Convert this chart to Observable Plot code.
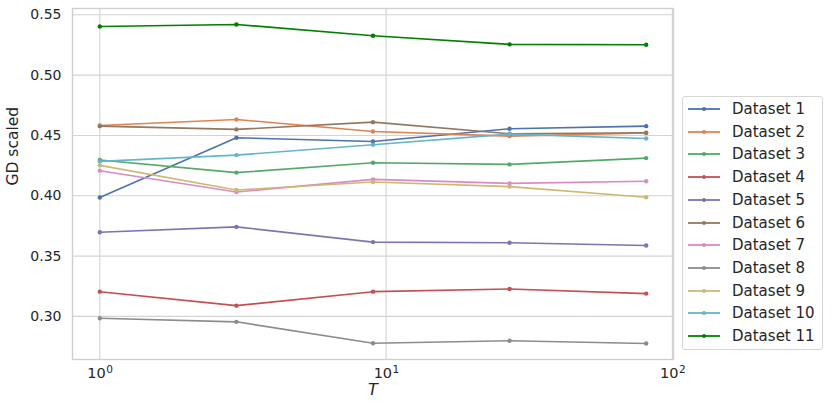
<!DOCTYPE html>
<html>
<head>
<meta charset="utf-8">
<script src="https://cdn.jsdelivr.net/npm/d3@7"></script>
<script src="https://cdn.jsdelivr.net/npm/@observablehq/plot@0.6"></script>
<style>
  html, body { margin: 0; padding: 0; background: #fff; }
  body { font-family: "DejaVu Sans", sans-serif; }
  #wrap { position: relative; width: 831px; height: 412px; }
  #legend { position: absolute; left: 682px; top: 96px; width: 141px; height: 254px;
    border: 1px solid #d6d6d6; border-radius: 3px; background: #fff; box-sizing: border-box; }
  .row { position: absolute; left: 0; height: 20px; display: flex; align-items: center;
    font-size: 15px; color: #262626; white-space: nowrap; }
  .row svg { margin-left: 5px; margin-right: 12px; }
</style>
</head>
<body>
<div id="wrap"></div>
<script>
const T = [1, 3, 9, 27, 81];
const names = ["Dataset 1","Dataset 2","Dataset 3","Dataset 4","Dataset 5","Dataset 6",
               "Dataset 7","Dataset 8","Dataset 9","Dataset 10","Dataset 11"];
const colors = ["#4C72B0","#DD8452","#55A868","#C44E52","#8172B3","#937860",
                "#DA8BC3","#8C8C8C","#CCB974","#64B5CD","#008000"];
const s1  = [0.3985, 0.4481, 0.4450, 0.4555, 0.4577];
const s2  = [0.4583, 0.4632, 0.4533, 0.4494, 0.4520];
const s3  = [0.4296, 0.4192, 0.4274, 0.4260, 0.4312];
const s4  = [0.3205, 0.3089, 0.3205, 0.3227, 0.3189];
const s5  = [0.3698, 0.3742, 0.3616, 0.3610, 0.3588];
const s6  = [0.4577, 0.4550, 0.4610, 0.4514, 0.4522];
const s7  = [0.4208, 0.4031, 0.4136, 0.4103, 0.4120];
const s8  = [0.2985, 0.2955, 0.2778, 0.2798, 0.2775];
const s9  = [0.4252, 0.4048, 0.4114, 0.4076, 0.3988];
const s10 = [0.4285, 0.4337, 0.4423, 0.4511, 0.4475];
const s11 = [0.5403, 0.5420, 0.5326, 0.5255, 0.5252];
const series = [s1,s2,s3,s4,s5,s6,s7,s8,s9,s10,s11];
const yTicks = [0.30, 0.35, 0.40, 0.45, 0.50, 0.55];
const xTicks = [1, 10, 100];
const xTickBase = ["10", "10", "10"];
const xTickExp = ["0", "1", "2"];

const data = series.flatMap((vals, i) => vals.map((v, j) => ({name: names[i], T: T[j], v})));

// matplotlib-style 5% margins
const lx0 = Math.log10(d3.min(T)), lx1 = Math.log10(d3.max(T));
const mx = (lx1 - lx0) * 0.05;
const allV = data.map(d => d.v);
const y0 = d3.min(allV), y1 = d3.max(allV), my = (y1 - y0) * 0.05;

const idx = d => xTicks.indexOf(d);

const chart = Plot.plot({
  width: 831, height: 412,
  marginLeft: 72, marginRight: 158, marginTop: 8, marginBottom: 53,
  style: {fontFamily: "DejaVu Sans, sans-serif", fontSize: "14px", color: "#262626", background: "#fff"},
  x: {type: "log", domain: [10 ** (lx0 - mx), 10 ** (lx1 + mx)], axis: null},
  y: {domain: [y0 - my, y1 + my], axis: null},
  color: {domain: names, range: colors},
  marks: [
    Plot.gridY(yTicks, {stroke: "#d4d4d4", strokeOpacity: 1, strokeWidth: 1.1}),
    Plot.gridX(xTicks, {stroke: "#d4d4d4", strokeOpacity: 1, strokeWidth: 1.1}),
    Plot.frame({stroke: "#cfcfcf", strokeWidth: 1.4}),
    Plot.axisY(yTicks, {tickSize: 0, tickPadding: 11, tickFormat: d3.format(".2f"), label: null, fontSize: 14}),
    Plot.text(xTicks, {x: d => d, text: d => xTickBase[idx(d)], frameAnchor: "bottom", textAnchor: "end", dx: 6, dy: 18, fontSize: 14.5, fill: "#262626"}),
    Plot.text(xTicks, {x: d => d, text: d => xTickExp[idx(d)], frameAnchor: "bottom", textAnchor: "start", dx: 6.5, dy: 13.5, fontSize: 10.5, fill: "#262626"}),
    Plot.text(["GD scaled"], {frameAnchor: "left", dx: -59.5, dy: 1.5, rotate: -90, fontSize: 15.5, fill: "#262626"}),
    Plot.text(["T"], {frameAnchor: "bottom", dy: 35, fontSize: 16, fontStyle: "italic", fill: "#262626"}),
    Plot.line(data, {x: "T", y: "v", z: "name", stroke: "name", strokeWidth: 1.6}),
    Plot.dot(data, {x: "T", y: "v", fill: "name", r: 2.2, stroke: "none"})
  ]
});

const wrap = document.getElementById("wrap");
wrap.appendChild(chart);

const legend = document.createElement("div");
legend.id = "legend";
names.forEach((n, i) => {
  const row = document.createElement("div");
  row.className = "row";
  row.style.top = (2 + i * 22.7) + "px";
  row.innerHTML = `<svg width="32" height="8"><line x1="0" y1="4" x2="32" y2="4" stroke="${colors[i]}" stroke-width="1.8"/><circle cx="16" cy="4" r="2" fill="${colors[i]}"/></svg><span>${n}</span>`;
  legend.appendChild(row);
});
wrap.appendChild(legend);
</script>
</body>
</html>
